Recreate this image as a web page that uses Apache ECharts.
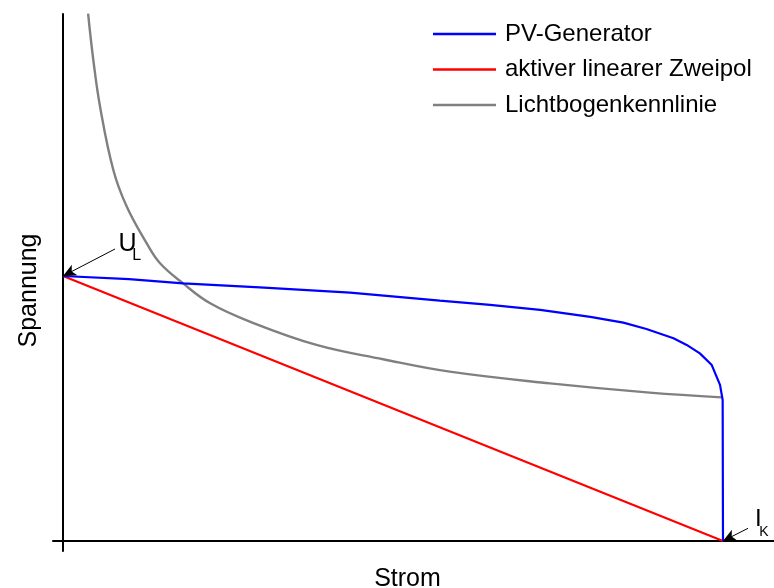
<!DOCTYPE html>
<html>
<head>
<meta charset="utf-8">
<script src="https://cdn.jsdelivr.net/npm/echarts@6/dist/echarts.min.js"></script>
<style>
html,body{margin:0;padding:0;background:#fff;}
#chart{width:774px;height:588px;}
</style>
</head>
<body>
<div id="chart"></div>
<script>
// Current I relative to short-circuit current I_K, voltage U relative to open-circuit voltage U_L
const seriesNames = ['PV-Generator', 'aktiver linearer Zweipol', 'Lichtbogenkennlinie'];
const pvCurve = [
  [0, 1.0], [0.1, 0.988], [0.182, 0.972], [0.298, 0.957], [0.435, 0.937], [0.571, 0.907],
  [0.647, 0.891], [0.723, 0.872], [0.799, 0.846], [0.849, 0.824], [0.884, 0.800],
  [0.925, 0.765], [0.945, 0.740], [0.965, 0.708], [0.983, 0.664], [0.9955, 0.589],
  [0.9995, 0.532], [1.0, 0]
];
const linearSource = [[0, 1.0], [1.0, 0]];
const arcCurve = [
  [0.038, 1.99], [0.0459, 1.815], [0.0561, 1.639], [0.0762, 1.400], [0.0965, 1.262],
  [0.1268, 1.123], [0.147, 1.048], [0.182, 0.972], [0.223, 0.897], [0.283, 0.828],
  [0.384, 0.740], [0.485, 0.686], [0.586, 0.639], [0.738, 0.595], [0.889, 0.560], [0.998, 0.542]
];
const axisNames = { x: 'Strom', y: 'Spannung' };
const annotULabel = ['U', 'L'];
const annotIKLabel = ['I', 'K'];
const annotUArrow = [[0.0788, 1.102], [0, 1.0]];
const annotIArrow = [[1.0379, 0.0479], [1.0, 0]];
const annotUPos = [[0.0977, 1.119], [0.1117, 1.076]];
const annotIPos = [[1.0535, 0.080], [1.0621, 0.0352]];

const FONT = 'Liberation Sans, Arial, sans-serif';
const chart = echarts.init(document.getElementById('chart'), null, { renderer: 'canvas' });

function txt(coord, text, size) {
  return { coord: coord, value: text, label: { formatter: text, fontSize: size } };
}

chart.setOption({
  animation: false,
  backgroundColor: '#fff',
  grid: { left: 53, right: 0, top: 14, bottom: 37, containLabel: false, outerBoundsMode: 'none' },
  legend: {
    data: seriesNames,
    orient: 'vertical',
    left: 433,
    top: 22,
    padding: 0,
    icon: 'rect',
    itemWidth: 63,
    itemHeight: 2.5,
    itemGap: 11.5,
    textStyle: { fontSize: 24, color: '#000', fontFamily: FONT, lineHeight: 22, padding: [0, 0, 0, 4] }
  },
  xAxis: {
    type: 'value', min: -0.0152, max: 1.0773,
    axisLine: { onZero: true, lineStyle: { color: '#000', width: 2 } },
    axisTick: { show: false }, axisLabel: { show: false }, splitLine: { show: false },
    name: axisNames.x, nameLocation: 'middle', nameGap: 16,
    nameTextStyle: { fontSize: 25, color: '#000', fontFamily: FONT, padding: [0, 12, 0, 0] }
  },
  yAxis: {
    type: 'value', min: -0.0377, max: 1.9887,
    axisLine: { onZero: true, lineStyle: { color: '#000', width: 2 } },
    axisTick: { show: false }, axisLabel: { show: false }, splitLine: { show: false },
    name: axisNames.y, nameLocation: 'middle', nameGap: 11,
    nameTextStyle: { fontSize: 25, color: '#000', fontFamily: FONT, padding: [0, 16, 0, 0] }
  },
  series: [
    {
      name: seriesNames[0], type: 'line', data: pvCurve, symbol: 'none',
      smooth: false,
      lineStyle: { color: '#0000ff', width: 2.2 }, itemStyle: { color: '#0000ff' }, z: 3
    },
    {
      name: seriesNames[1], type: 'line', data: linearSource, symbol: 'none',
      lineStyle: { color: '#ff0000', width: 2.2 }, itemStyle: { color: '#ff0000' }, z: 2,
      markLine: {
        silent: true, animation: false,
        symbol: ['none', 'arrow'], symbolSize: [9, 13],
        lineStyle: { color: '#000', width: 1, type: 'solid' },
        itemStyle: { color: '#000' },
        label: { show: false },
        emphasis: { disabled: true },
        data: [
          [{ coord: annotUArrow[0] }, { coord: annotUArrow[1] }],
          [{ coord: annotIArrow[0] }, { coord: annotIArrow[1] }]
        ]
      },
      markPoint: {
        silent: true, animation: false,
        symbol: 'circle', symbolSize: 1,
        itemStyle: { color: 'rgba(0,0,0,0)' },
        label: { show: true, position: 'inside', color: '#000', fontFamily: FONT },
        data: [
          txt(annotUPos[0], annotULabel[0], 25),
          txt(annotUPos[1], annotULabel[1], 16),
          txt(annotIPos[0], annotIKLabel[0], 24),
          txt(annotIPos[1], annotIKLabel[1], 14)
        ]
      }
    },
    {
      name: seriesNames[2], type: 'line', data: arcCurve, symbol: 'none',
      smooth: 0.4,
      lineStyle: { color: '#808080', width: 2.4 }, itemStyle: { color: '#808080' }, z: 1
    }
  ]
});
</script>
</body>
</html>
